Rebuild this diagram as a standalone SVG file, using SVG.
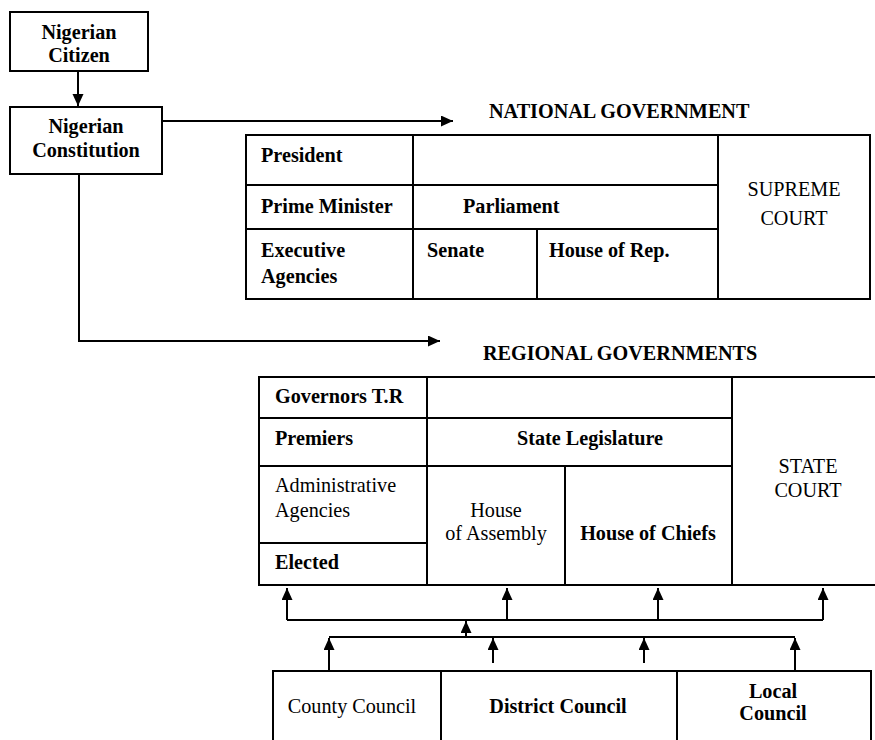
<svg xmlns="http://www.w3.org/2000/svg" width="875" height="740" viewBox="0 0 875 740">
<style>
  .box { fill: #fff; stroke: #000; stroke-width: 2; }
  .ln { stroke: #000; stroke-width: 2; fill: none; }
  .con { stroke: #000; stroke-width: 2; fill: none; }
  text { font-family: 'Liberation Serif', 'DejaVu Serif', serif; font-size: 20.2px; fill: #000; }
  .b { font-weight: bold; }
  .c { text-anchor: middle; }
</style>
<defs>
  <marker id="ah" markerUnits="userSpaceOnUse" markerWidth="13" markerHeight="12" refX="12" refY="5.5" orient="auto">
    <path d="M0,0 L12,5.5 L0,11 z" fill="#000"/>
  </marker>
</defs>
<rect width="875" height="740" fill="#fff"/>

<g id="citizen">
  <rect class="box" x="10" y="12" width="138" height="59"/>
  <text class="b c" x="79" y="39">Nigerian</text>
  <text class="b c" x="79" y="62">Citizen</text>
</g>

<g id="constitution">
  <rect class="box" x="10" y="107" width="152" height="67"/>
  <text class="b c" x="86" y="133">Nigerian</text>
  <text class="b c" x="86" y="157">Constitution</text>
</g>

<g id="national-title">
  <text class="b" x="489" y="118">NATIONAL GOVERNMENT</text>
</g>

<g id="national-government">
  <rect class="box" x="246" y="135" width="624" height="164"/>
  <line class="ln" x1="413" y1="135" x2="413" y2="299"/>
  <line class="ln" x1="718" y1="135" x2="718" y2="299"/>
  <line class="ln" x1="246" y1="185" x2="718" y2="185"/>
  <line class="ln" x1="246" y1="229" x2="718" y2="229"/>
  <line class="ln" x1="537" y1="229" x2="537" y2="299"/>
  <text class="b" x="261" y="162">President</text>
  <text class="b" x="261" y="213">Prime Minister</text>
  <text class="b" x="261" y="257">Executive</text>
  <text class="b" x="261" y="283">Agencies</text>
  <text class="b" x="463" y="213">Parliament</text>
  <text class="b" x="427" y="257">Senate</text>
  <text class="b" x="549" y="257">House of Rep.</text>
  <text class="c" x="794" y="196">SUPREME</text>
  <text class="c" x="794" y="225">COURT</text>
</g>

<g id="regional-title">
  <text class="b" x="483" y="360">REGIONAL GOVERNMENTS</text>
</g>

<g id="regional-governments">
  <rect class="box" x="259" y="377" width="630" height="208"/>
  <line class="ln" x1="427" y1="377" x2="427" y2="585"/>
  <line class="ln" x1="732" y1="377" x2="732" y2="585"/>
  <line class="ln" x1="259" y1="418" x2="732" y2="418"/>
  <line class="ln" x1="259" y1="466" x2="732" y2="466"/>
  <line class="ln" x1="565" y1="466" x2="565" y2="585"/>
  <line class="ln" x1="259" y1="543" x2="427" y2="543"/>
  <text class="b" x="275" y="403">Governors T.R</text>
  <text class="b" x="275" y="445">Premiers</text>
  <text x="275" y="492">Administrative</text>
  <text x="275" y="517">Agencies</text>
  <text class="b" x="275" y="569">Elected</text>
  <text class="b c" x="590" y="445">State Legislature</text>
  <text class="c" x="496" y="517">House</text>
  <text class="c" x="496" y="540">of Assembly</text>
  <text class="b c" x="648" y="540">House of Chiefs</text>
  <text class="c" x="808" y="473">STATE</text>
  <text class="c" x="808" y="497">COURT</text>
</g>

<g id="councils">
  <rect class="box" x="273" y="671" width="598" height="80"/>
  <line class="ln" x1="441" y1="671" x2="441" y2="745"/>
  <line class="ln" x1="677" y1="671" x2="677" y2="745"/>
  <text class="c" x="352" y="713">County Council</text>
  <text class="b c" x="558" y="713">District Council</text>
  <text class="b c" x="773" y="698">Local</text>
  <text class="b c" x="773" y="720">Council</text>
</g>

<g id="connectors">
  <line class="con" x1="78" y1="71" x2="78" y2="106" marker-end="url(#ah)"/>
  <polyline class="con" points="162,121 453,121" marker-end="url(#ah)"/>
  <polyline class="con" points="79,174 79,341 440,341" marker-end="url(#ah)"/>
  <line class="con" x1="287" y1="620" x2="823" y2="620"/>
  <line class="con" x1="287" y1="620" x2="287" y2="588" marker-end="url(#ah)"/>
  <line class="con" x1="507" y1="620" x2="507" y2="588" marker-end="url(#ah)"/>
  <line class="con" x1="658" y1="620" x2="658" y2="588" marker-end="url(#ah)"/>
  <line class="con" x1="823" y1="620" x2="823" y2="588" marker-end="url(#ah)"/>
  <line class="con" x1="466" y1="637" x2="466" y2="621" marker-end="url(#ah)"/>
  <line class="con" x1="329" y1="637" x2="795" y2="637"/>
  <line class="con" x1="329" y1="671" x2="329" y2="638" marker-end="url(#ah)"/>
  <line class="con" x1="795" y1="671" x2="795" y2="638" marker-end="url(#ah)"/>
  <line class="con" x1="493" y1="663" x2="493" y2="638" marker-end="url(#ah)"/>
  <line class="con" x1="644" y1="663" x2="644" y2="638" marker-end="url(#ah)"/>
</g>
</svg>
